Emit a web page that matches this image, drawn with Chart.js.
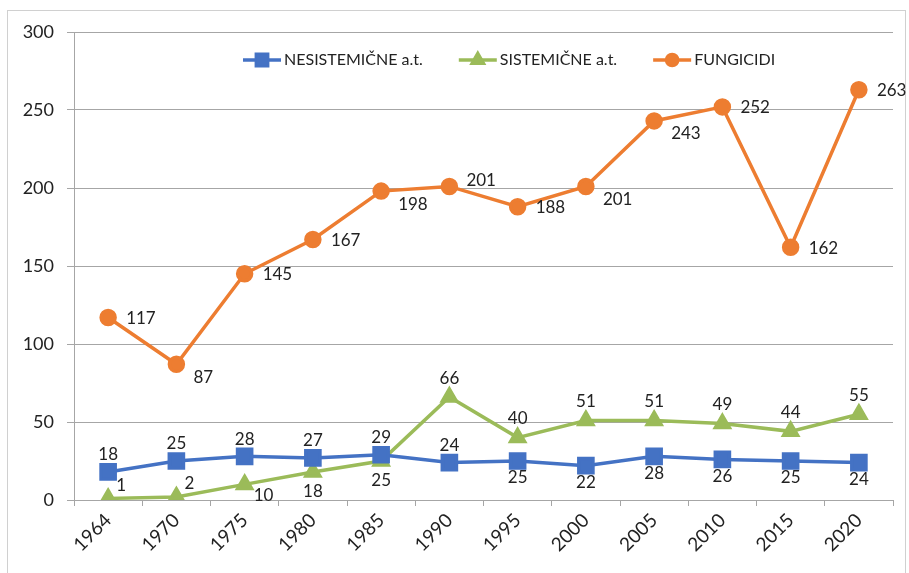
<!DOCTYPE html>
<html>
<head>
<meta charset="utf-8">
<script src="https://cdn.jsdelivr.net/npm/chart.js@4/dist/chart.umd.min.js"></script>
<style>
  body { margin: 0; background: #fff; }
  #wrap { position: relative; width: 909px; height: 573px; overflow: hidden; }
  #frame { position: absolute; left: 7px; top: 10px; width: 897px; height: 600px; border: 1px solid #d0d0d0; }
  canvas { position: absolute; left: 0; top: 0; }
</style>
</head>
<body>
<div id="wrap">
  <div id="frame"></div>
  <canvas id="chart" width="909" height="573"></canvas>
</div>
<script>
const years = ["1964", "1970", "1975", "1980", "1985", "1990", "1995", "2000", "2005", "2010", "2015", "2020"];
const nesistemicne = [18, 25, 28, 27, 29, 24, 25, 22, 28, 26, 25, 24];
const sistemicne = [1, 2, 10, 18, 25, 66, 40, 51, 51, 49, 44, 55];
const fungicidi = [117, 87, 145, 167, 198, 201, 188, 201, 243, 252, 162, 263];
const yTicks = [0, 50, 100, 150, 200, 250, 300];

// where each value label sits relative to its point
const labelPlace = [
    ["t", "t", "t", "t", "t", "t", "b", "b", "b", "b", "b", "b"],
    ["tr", "tr", "br", "b", "b", "t", "t", "t", "t", "t", "t", "t"],
    ["r", "br", "r", "r", "br", "tr", "r", "br", "br", "r", "r", "r"],
];

const FONT = "Lato, 'Open Sans', sans-serif";

const valueLabels = {
    id: "valueLabels",
    afterDatasetsDraw(chart) {
        const ctx = chart.ctx;
        ctx.save();
        ctx.font = "17px " + FONT;
        ctx.fillStyle = "#222";
        ctx.textBaseline = "middle";
        chart.data.datasets.forEach((ds, di) => {
            const meta = chart.getDatasetMeta(di);
            meta.data.forEach((pt, i) => {
                const p = labelPlace[di][i];
                let x = pt.x, y = pt.y;
                ctx.textAlign = "center";
                if (p === "t") y -= di === 1 ? 19 : 17;
                else if (p === "b") y += di === 1 ? 20 : 17;
                else if (p === "r") { ctx.textAlign = "left"; x += 18; y += 1; }
                else if (p === "br") { ctx.textAlign = "left"; x += di === 1 ? 9 : 17; y += di === 1 ? 11 : 13; }
                else if (p === "tr") { ctx.textAlign = "left"; x += di === 1 ? 8 : 17; y += di === 1 ? -13 : -6; }
                ctx.fillText(String(ds.data[i]), x, y);
            });
        });
        ctx.restore();
    }
};

const insideLegend = {
    id: "insideLegend",
    afterDraw(chart) {
        const ctx = chart.ctx;
        ctx.save();
        ctx.font = "16px " + FONT;
        ctx.textBaseline = "middle";
        let x = 243;
        const y = 60;
        chart.data.datasets.forEach((ds) => {
            ctx.strokeStyle = ds.borderColor;
            ctx.lineWidth = 3.5;
            ctx.beginPath();
            ctx.moveTo(x, y);
            ctx.lineTo(x + 38, y);
            ctx.stroke();
            Chart.helpers.drawPoint(ctx, {
                pointStyle: ds.pointStyle,
                radius: ds.pointRadius * 0.8,
                borderWidth: 1
            }, x + 19, y);
            ctx.fillStyle = ds.borderColor;
            ctx.fill();
            ctx.fillStyle = "#222";
            ctx.textAlign = "left";
            ctx.fillText(ds.label, x + 41, y);
            x += 41 + ctx.measureText(ds.label).width + 36;
        });
        ctx.restore();
    }
};

new Chart(document.getElementById("chart"), {
    type: "line",
    data: {
        labels: years,
        datasets: [
            {
                label: "NESISTEMIČNE a.t.",
                data: nesistemicne,
                borderColor: "#4472C4",
                backgroundColor: "#4472C4",
                borderWidth: 3.5,
                pointStyle: "rect",
                pointRadius: 10,
                pointHoverRadius: 10,
            },
            {
                label: "SISTEMIČNE a.t.",
                data: sistemicne,
                borderColor: "#9BBB59",
                backgroundColor: "#9BBB59",
                borderWidth: 3.5,
                pointStyle: "triangle",
                pointRadius: 8,
                pointHoverRadius: 8,
            },
            {
                label: "FUNGICIDI",
                data: fungicidi,
                borderColor: "#ED7D31",
                backgroundColor: "#ED7D31",
                borderWidth: 3.5,
                pointStyle: "circle",
                pointRadius: 7,
                pointHoverRadius: 7,
            },
        ],
    },
    options: {
        responsive: false,
        animation: false,
        layout: { padding: { left: 0, top: 32, right: 16, bottom: 0 } },
        plugins: {
            legend: { display: false },
            tooltip: { enabled: false },
        },
        scales: {
            x: {
                offset: true,
                grid: { drawOnChartArea: false, tickLength: 6, color: "#a6a6a6", offset: true },
                border: { color: "#a6a6a6" },
                ticks: {
                    font: { family: FONT, size: 19 },
                    color: "#222",
                    minRotation: 45,
                    maxRotation: 45,
                    padding: 3,
                },
                afterFit(s) { s.height = 73; },
            },
            y: {
                min: 0,
                max: 300,
                afterBuildTicks(s) { s.ticks = yTicks.map(v => ({ value: v })); },
                grid: { color: "#a6a6a6", tickLength: 7 },
                border: { color: "#a6a6a6" },
                ticks: {
                    font: { family: FONT, size: 18 },
                    color: "#222",
                    padding: 13,
                },
                afterFit(s) { s.width = 74; },
            },
        },
    },
    plugins: [valueLabels, insideLegend],
});
</script>
</body>
</html>
